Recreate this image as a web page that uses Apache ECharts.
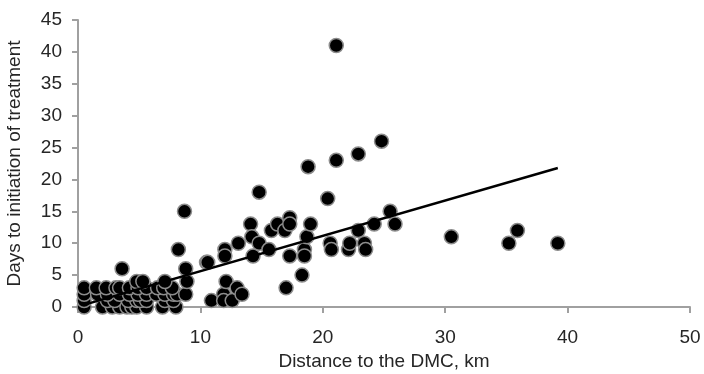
<!DOCTYPE html>
<html>
<head>
<meta charset="utf-8">
<script src="https://cdn.jsdelivr.net/npm/echarts@6/dist/echarts.min.js"></script>
<style>
  html, body { margin: 0; padding: 0; background: #fff; }
  #chart { width: 704px; height: 374px; }
</style>
</head>
<body>
<div id="chart"></div>
<script>
// distance to DMC (km) / days to initiation of treatment
const clusterX = [
  0.5, 2.0, 2.8, 3.4, 4.0, 4.4, 4.8, 5.6, 6.9, 8.0,
  0.5, 2.4, 3.0, 4.1, 4.8, 5.1, 5.6, 7.1, 7.8,
  0.5, 1.6, 2.4, 3.4, 4.2, 4.9, 5.6, 6.4, 7.1, 7.8, 8.1, 8.8,
  0.5, 1.5, 2.3, 3.1, 3.4, 4.2, 4.9, 5.6, 6.5, 7.0, 7.7,
  4.8, 5.3, 7.1, 8.9,
  3.6, 8.8, 8.2, 8.7
];
const clusterY = [
  0, 0, 0, 0, 0, 0, 0, 0, 0, 0,
  1, 1, 1, 1, 1, 1, 1, 1, 1,
  2, 2, 2, 2, 2, 2, 2, 2, 2, 2, 2, 2,
  3, 3, 3, 3, 3, 3, 3, 3, 3, 3, 3,
  4, 4, 4, 4,
  6, 6, 9, 15
];
const restX = [
  10.5, 10.6, 10.9, 11.9, 11.9, 12.0, 12.0, 12.1, 12.6, 13.0, 13.1, 13.4,
  14.1, 14.2, 14.3, 14.8, 14.8, 15.6, 15.8, 16.3, 16.9, 17.0, 17.3, 17.3, 17.3,
  18.3, 18.5, 18.5, 18.7, 18.8, 19.0, 20.4, 20.6, 20.7, 21.1, 21.1,
  22.1, 22.2, 22.9, 22.9, 23.4, 23.5, 24.2, 24.8, 25.5, 25.9,
  30.5, 35.2, 35.9, 39.2
];
const restY = [
  7, 7, 1, 2, 1, 9, 8, 4, 1, 3, 10, 2,
  13, 11, 8, 18, 10, 9, 12, 13, 12, 3, 14, 13, 8,
  5, 9, 8, 11, 22, 13, 17, 10, 9, 41, 23,
  9, 10, 12, 24, 10, 9, 13, 26, 15, 13,
  11, 10, 12, 10
];
const trendX = [0.4, 39.2];
const trendY = [0.3, 21.8];

const xTicks = [0, 50, 10];
const yTicks = [0, 45, 5];

const points = clusterX.map((x, i) => [x, clusterY[i]])
  .concat(restX.map((x, i) => [x, restY[i]]));
const trend = trendX.map((x, i) => [x, trendY[i]]);

const chart = echarts.init(document.getElementById('chart'), null, { renderer: 'canvas' });
const labelFont = { fontFamily: 'Liberation Sans', fontSize: 19, color: '#262626' };

chart.setOption({
  animation: false,
  grid: { left: 78, right: 14, top: 20, bottom: 67, outerBoundsMode: 'none', containLabel: false },
  xAxis: {
    type: 'value',
    min: xTicks[0], max: xTicks[1], interval: xTicks[2],
    name: 'Distance to the DMC, km',
    nameLocation: 'middle',
    nameGap: 42,
    nameTextStyle: labelFont,
    axisLine: { show: true, lineStyle: { color: '#a0a0a0', width: 2 } },
    axisTick: { show: true, length: 6, lineStyle: { color: '#a0a0a0', width: 2 } },
    axisLabel: Object.assign({ margin: 21 }, labelFont),
    splitLine: { show: false }
  },
  yAxis: {
    type: 'value',
    min: yTicks[0], max: yTicks[1], interval: yTicks[2],
    name: 'Days to initiation of treatment',
    nameLocation: 'middle',
    nameGap: 54,
    nameTextStyle: labelFont,
    axisLine: { show: true, lineStyle: { color: '#a0a0a0', width: 2 } },
    axisTick: { show: true, length: 6, lineStyle: { color: '#a0a0a0', width: 2 } },
    axisLabel: Object.assign({ margin: 16 }, labelFont),
    splitLine: { show: false }
  },
  series: [
    {
      type: 'scatter',
      data: points,
      symbolSize: 14,
      itemStyle: { color: '#000', borderColor: '#8c8c8c', borderWidth: 1.5, opacity: 1 },
      z: 2
    },
    {
      type: 'line',
      data: trend,
      showSymbol: false,
      symbol: 'none',
      lineStyle: { color: '#000', width: 2.5 },
      z: 3
    }
  ]
});
</script>
</body>
</html>
